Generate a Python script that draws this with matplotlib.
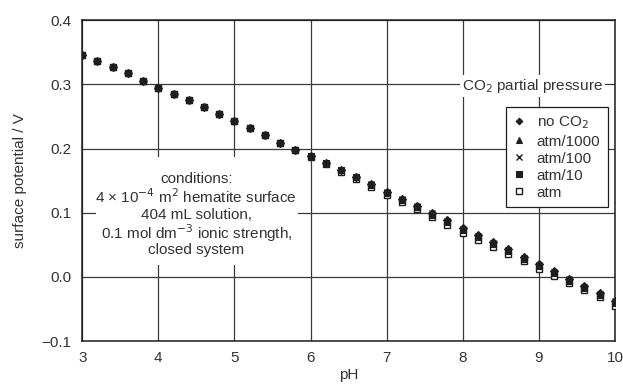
import matplotlib.pyplot as plt
from matplotlib.patches import Rectangle
from matplotlib.transforms import ScaledTranslation

plt.rcParams["font.family"] = ["Liberation Sans", "DejaVu Sans"]

# pH steps of 0.2 from 3 to 10
ph = [3.0, 3.2, 3.4, 3.6, 3.8, 4.0, 4.2, 4.4, 4.6, 4.8, 5.0, 5.2, 5.4, 5.6,
      5.8, 6.0, 6.2, 6.4, 6.6, 6.8, 7.0, 7.2, 7.4, 7.6, 7.8, 8.0, 8.2, 8.4,
      8.6, 8.8, 9.0, 9.2, 9.4, 9.6, 9.8, 10.0]

no_co2 = [0.346, 0.337, 0.327, 0.317, 0.306, 0.295, 0.285, 0.275, 0.264,
          0.254, 0.243, 0.232, 0.221, 0.209, 0.198, 0.188, 0.177, 0.166,
          0.155, 0.144, 0.133, 0.122, 0.111, 0.100, 0.088, 0.076, 0.065,
          0.054, 0.043, 0.031, 0.020, 0.009, -0.003, -0.014, -0.025, -0.037]
atm_1000 = [0.346, 0.337, 0.327, 0.317, 0.306, 0.295, 0.285, 0.275, 0.264,
            0.254, 0.243, 0.232, 0.221, 0.209, 0.198, 0.188, 0.177, 0.166,
            0.155, 0.144, 0.133, 0.122, 0.111, 0.100, 0.088, 0.076, 0.065,
            0.054, 0.043, 0.031, 0.020, 0.009, -0.003, -0.014, -0.025, -0.037]
atm_100 = [0.346, 0.337, 0.327, 0.317, 0.306, 0.295, 0.285, 0.275, 0.264,
           0.254, 0.243, 0.232, 0.221, 0.209, 0.198, 0.188, 0.177, 0.166,
           0.155, 0.144, 0.132, 0.121, 0.110, 0.099, 0.087, 0.075, 0.064,
           0.053, 0.042, 0.030, 0.019, 0.008, -0.004, -0.015, -0.026, -0.038]
atm_10 = [0.346, 0.337, 0.327, 0.317, 0.306, 0.295, 0.285, 0.275, 0.264,
          0.254, 0.243, 0.232, 0.221, 0.209, 0.198, 0.188, 0.177, 0.166,
          0.155, 0.143, 0.131, 0.120, 0.109, 0.097, 0.085, 0.073, 0.062,
          0.051, 0.040, 0.028, 0.017, 0.006, -0.006, -0.017, -0.028, -0.040]
atm = [0.346, 0.337, 0.327, 0.317, 0.306, 0.295, 0.285, 0.275, 0.264,
       0.254, 0.243, 0.232, 0.221, 0.209, 0.198, 0.187, 0.176, 0.164,
       0.152, 0.140, 0.128, 0.116, 0.105, 0.093, 0.081, 0.069, 0.058,
       0.047, 0.035, 0.024, 0.013, 0.001, -0.010, -0.021, -0.032, -0.045]

labels = ["no CO$_2$", "atm/1000", "atm/100", "atm/10", "atm"]
ytick_labels = ["\u22120.1", "0.0", "0.1", "0.2", "0.3", "0.4"]
note_lines = ["conditions:",
              "4 \u00d7 10$^{-4}$ m$^{2}$ hematite surface",
              "404 mL solution,",
              "0.1 mol dm$^{-3}$ ionic strength,",
              "closed system"]
ink = "#1e1e1e"
txt = "#333333"

fig = plt.figure(figsize=(6.23, 3.88), dpi=100)
ax = fig.add_axes([0.132, 0.121, 0.855, 0.827])

ax.set_xlim(3, 10)
ax.set_ylim(-0.1, 0.4)
ax.set_xticks(range(3, 11))
ax.set_yticks([-0.1, 0.0, 0.1, 0.2, 0.3, 0.4])
ax.set_yticklabels(ytick_labels)
ax.tick_params(length=0, labelsize=11, colors=txt)
ax.tick_params(axis="y", pad=8)
ax.tick_params(axis="x", pad=7)
ax.grid(True, color="#3a3a3a", linewidth=0.9, zorder=0)
ax.set_axisbelow(True)
for s in ax.spines.values():
    s.set_color(ink)
    s.set_linewidth(1.1)

# open squares drawn first so the filled ones sit on top
h_atm, = ax.plot(ph, atm, ls="none", marker="s", ms=5, mfc="white",
                 mec=ink, mew=1.0, zorder=3)
h_no, = ax.plot(ph, no_co2, ls="none", marker="D", ms=4.5, mfc=ink,
                mec=ink, mew=0.8, zorder=4)
h_1000, = ax.plot(ph, atm_1000, ls="none", marker="^", ms=5, mfc=ink,
                  mec=ink, mew=0.8, zorder=4)
h_100, = ax.plot(ph, atm_100, ls="none", marker="x", ms=5, mfc=ink,
                 mec=ink, mew=1.0, zorder=4)
h_10, = ax.plot(ph, atm_10, ls="none", marker="s", ms=5, mfc=ink,
                mec=ink, mew=0.8, zorder=4)

ax.set_xlabel("pH", fontsize=11, color=txt, labelpad=2)
ax.set_ylabel("surface potential / V", fontsize=11, color=txt, labelpad=10)

# white panel hiding the grid behind the conditions note
ax.add_patch(Rectangle((0.025, 0.237), 0.381, 0.336, transform=ax.transAxes,
                       facecolor="white", edgecolor="none", zorder=2))
# one text per line so the line pitch stays even (~17.7 px)
for i, line in enumerate(note_lines):
    shift = ScaledTranslation(0, -(i - 2) * 0.177, fig.dpi_scale_trans)
    ax.text(4.5, 0.0995, line, ha="center", va="center_baseline",
            fontsize=11, color=txt, zorder=2.5,
            transform=ax.transData + shift)

ax.text(8.92, 0.297, "CO$_2$ partial pressure", ha="center", va="center",
        fontsize=11, color=txt, zorder=4,
        bbox=dict(facecolor="white", edgecolor="none", pad=1.5))

leg = ax.legend([h_no, h_1000, h_100, h_10, h_atm], labels,
                loc="upper right", bbox_to_anchor=(0.987, 0.729),
                fontsize=11, frameon=True, fancybox=False,
                handlelength=0.7, handletextpad=0.8, labelspacing=0.2,
                borderpad=0.5, borderaxespad=0, markerscale=0.75)
for t in leg.get_texts():
    t.set_color(txt)
leg.get_frame().set_edgecolor(ink)
leg.get_frame().set_linewidth(0.9)
leg.get_frame().set_alpha(1)
leg.set_zorder(5)

fig.savefig("out.png", dpi=100)
